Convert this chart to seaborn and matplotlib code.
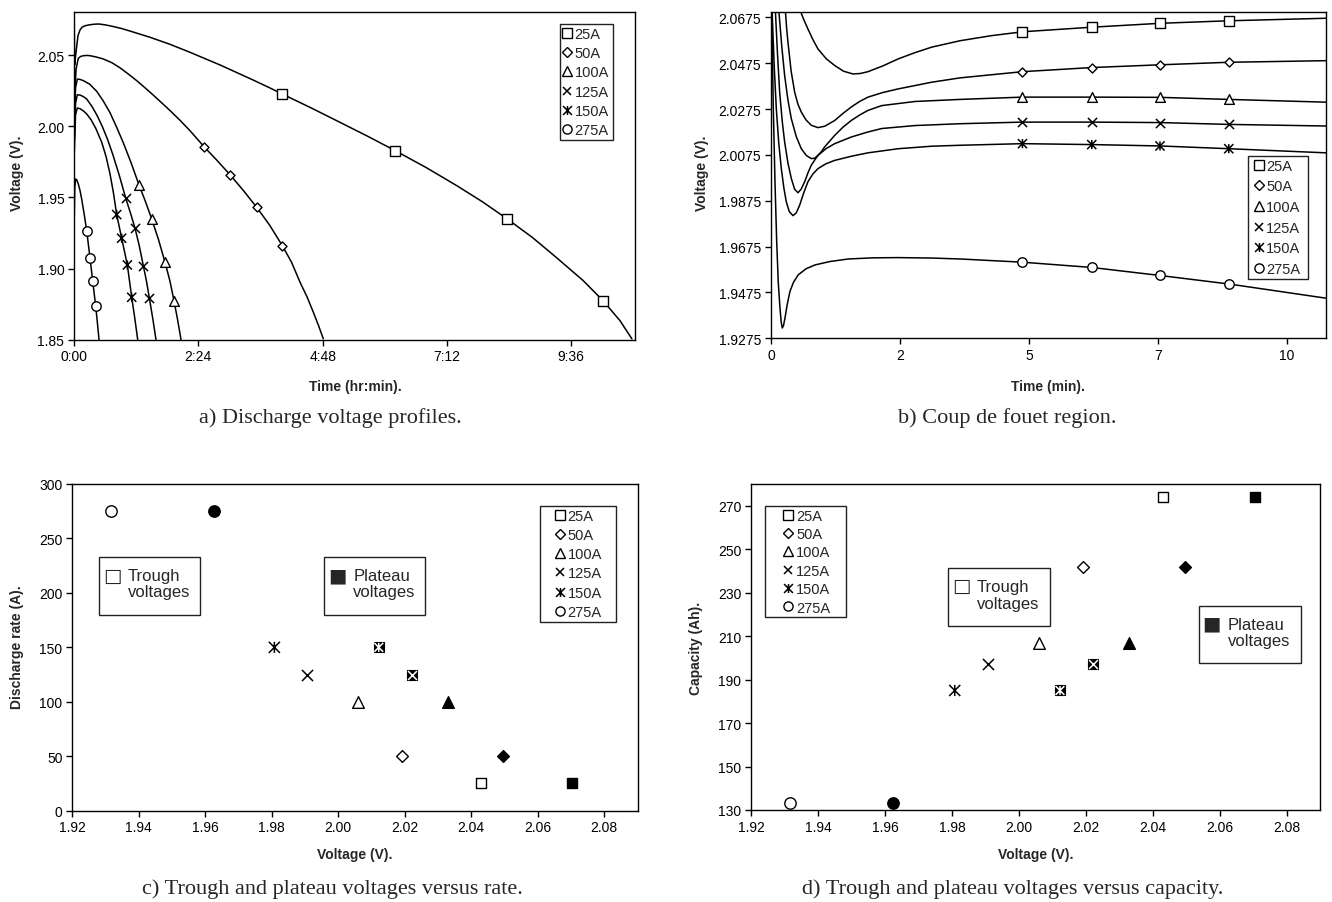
import matplotlib
matplotlib.use("Agg")
import matplotlib.pyplot as plt
import numpy as np
import seaborn as sns
from matplotlib.path import Path
from matplotlib.lines import Line2D
from matplotlib.patches import Rectangle
from matplotlib.ticker import FormatStrFormatter, FuncFormatter

# ---------------------------------------------------------------- data
SERIES = ["25A", "50A", "100A", "125A", "150A", "275A"]
RATES = [25, 50, 100, 125, 150, 275]                 # discharge rate (A)
CAPACITY = [274, 242, 207, 197, 185, 133]            # delivered capacity (Ah)
TROUGH_V = [2.0429, 2.0192, 2.0060, 1.9907, 1.9808, 1.9315]
PLATEAU_V = [2.0704, 2.0495, 2.0329, 2.0221, 2.0122, 1.9625]

# (a) full discharge profiles, time in hours
A_T_25 = [0.0, 0.012, 0.039, 0.077, 0.115, 0.154, 0.22, 0.284, 0.38, 0.477, 0.6, 0.734, 0.92,
          1.12, 1.48, 1.853, 2.24, 2.5, 2.82, 3.14, 3.46, 3.78, 4.02, 4.58, 5.135, 5.67, 6.20,
          6.8, 7.39, 7.88, 8.365, 8.85, 9.32, 9.83, 10.21, 10.54, 10.77]
A_V_25 = [2.09, 2.043, 2.0519, 2.0636, 2.0675, 2.0695, 2.0706, 2.0711, 2.0716, 2.0718, 2.0712,
          2.0702, 2.0686, 2.0664, 2.0623, 2.0575, 2.0519, 2.0479, 2.0430, 2.0377, 2.0324,
          2.0269, 2.0226, 2.0128, 2.0027, 1.9929, 1.9828, 1.9709, 1.9582, 1.9470, 1.9348,
          1.9218, 1.9075, 1.8915, 1.8775, 1.8634, 1.8506]
A_T_50 = [0.0, 0.01, 0.04, 0.083, 0.13, 0.18, 0.25, 0.31, 0.42, 0.566, 0.73, 0.888, 1.05, 1.21,
          1.37, 1.531, 1.69, 1.853, 2.05, 2.24, 2.51, 2.76, 3.012, 3.27, 3.527, 3.78, 4.021,
          4.2, 4.363, 4.5, 4.62, 4.72, 4.813]
A_V_50 = [2.09, 2.019, 2.040, 2.0477, 2.0490, 2.0495, 2.0497, 2.0495, 2.0487, 2.0472, 2.0446,
          2.0410, 2.0366, 2.0320, 2.0270, 2.0218, 2.0165, 2.0110, 2.0040, 1.9968, 1.9856,
          1.9760, 1.9659, 1.9548, 1.9430, 1.9303, 1.9161, 1.9044, 1.8904, 1.8800, 1.8693,
          1.8600, 1.8506]
A_T_100 = [0.0, 0.008, 0.03, 0.064, 0.12, 0.18, 0.30, 0.438, 0.56, 0.695, 0.82, 0.95, 1.10,
           1.255, 1.38, 1.50, 1.63, 1.757, 1.85, 1.93, 2.00, 2.066]
A_V_100 = [2.09, 2.006, 2.027, 2.0331, 2.0328, 2.0320, 2.0296, 2.0245, 2.0180, 2.0095,
           1.9995, 1.9885, 1.9745, 1.9587, 1.9470, 1.9348, 1.9205, 1.9044, 1.8915, 1.8775,
           1.8640, 1.8500]
A_T_125 = [0.0, 0.006, 0.03, 0.064, 0.12, 0.18, 0.245, 0.35, 0.45, 0.55, 0.65, 0.75, 0.87,
           0.997, 1.09, 1.178, 1.26, 1.338, 1.40, 1.454, 1.52, 1.583]
A_V_125 = [2.09, 1.991, 2.016, 2.0221, 2.0218, 2.0208, 2.0191, 2.0137, 2.0072, 1.9995,
           1.9905, 1.9800, 1.9660, 1.9496, 1.9390, 1.9283, 1.9160, 1.9020, 1.8910, 1.8794,
           1.8650, 1.8500]
A_T_150 = [0.0, 0.005, 0.03, 0.064, 0.12, 0.18, 0.245, 0.33, 0.42, 0.535, 0.62, 0.695, 0.76,
           0.824, 0.92, 1.03, 1.114, 1.17, 1.23]
A_V_150 = [2.09, 1.981, 2.008, 2.0128, 2.0122, 2.0108, 2.0086, 2.0045, 1.9985, 1.9887,
           1.9785, 1.9665, 1.9535, 1.9379, 1.9213, 1.9025, 1.8798, 1.8660, 1.8500]
A_T_275 = [0.0, 0.003, 0.015, 0.032, 0.055, 0.083, 0.115, 0.148, 0.195, 0.245, 0.309, 0.36,
           0.418, 0.45, 0.483]
A_V_275 = [2.09, 1.932, 1.957, 1.9629, 1.9622, 1.9594, 1.9550, 1.9489, 1.9385, 1.9266,
           1.9074, 1.8915, 1.8739, 1.8625, 1.8500]

# (a) marked samples
A_MT_25, A_MV_25 = [4.02, 6.20, 8.365, 10.21], [2.0226, 1.9828, 1.9348, 1.8775]
A_MT_50, A_MV_50 = [2.51, 3.012, 3.527, 4.021], [1.9856, 1.9659, 1.9430, 1.9161]
A_MT_100, A_MV_100 = [1.255, 1.50, 1.757, 1.93], [1.9587, 1.9348, 1.9044, 1.8775]
A_MT_125, A_MV_125 = [0.997, 1.178, 1.338, 1.454], [1.9496, 1.9283, 1.9020, 1.8794]
A_MT_150, A_MV_150 = [0.824, 0.92, 1.03, 1.114], [1.9379, 1.9213, 1.9025, 1.8798]
A_MT_275, A_MV_275 = [0.245, 0.309, 0.36, 0.418], [1.9266, 1.9074, 1.8915, 1.8739]

# (b) first ten minutes, time in minutes
B_T_25 = [0.534, 0.61, 0.688, 0.78, 0.874, 1.03, 1.185, 1.35, 1.526, 1.66, 1.805, 2.08, 2.37,
          2.68, 2.99, 3.52, 4.1, 4.68, 5.97, 7.24, 8.52, 10.33]
B_V_25 = [2.0711, 2.0665, 2.0624, 2.0578, 2.0537, 2.0494, 2.0465, 2.0440, 2.0428, 2.0430,
          2.0438, 2.0463, 2.0494, 2.0521, 2.0545, 2.0573, 2.0595, 2.0612, 2.0632, 2.0649,
          2.0660, 2.0671]
B_T_50 = [0.266, 0.29, 0.316, 0.375, 0.44, 0.50, 0.564, 0.65, 0.75, 0.874, 1.0, 1.185, 1.34,
          1.494, 1.65, 1.805, 2.08, 2.37, 2.99, 3.52, 4.68, 5.97, 7.24, 8.52, 10.33]
B_V_50 = [2.0711, 2.0630, 2.0566, 2.0440, 2.0349, 2.0297, 2.0262, 2.0228, 2.0204, 2.0194,
          2.0200, 2.0225, 2.0256, 2.0284, 2.0308, 2.0327, 2.0347, 2.0363, 2.0392, 2.0411,
          2.0438, 2.0456, 2.0468, 2.0479, 2.0486]
B_T_100 = [0.143, 0.2, 0.254, 0.315, 0.378, 0.47, 0.564, 0.66, 0.75, 0.81, 0.874, 0.94, 0.999,
           1.185, 1.34, 1.494, 1.65, 1.805, 2.06, 2.68, 3.52, 4.68, 5.97, 7.24, 8.52, 10.33]
B_V_100 = [2.0711, 2.0550, 2.0421, 2.0315, 2.0233, 2.0155, 2.0102, 2.0072, 2.0059, 2.0060,
           2.0073, 2.0090, 2.0110, 2.0160, 2.0196, 2.0225, 2.0249, 2.0269, 2.0290, 2.0308,
           2.0317, 2.0327, 2.0327, 2.0326, 2.0317, 2.0305]
B_T_125 = [0.08, 0.12, 0.161, 0.21, 0.254, 0.315, 0.378, 0.44, 0.502, 0.56, 0.627, 0.69, 0.75,
           0.874, 1.03, 1.185, 1.494, 1.805, 2.06, 2.68, 3.52, 4.68, 5.97, 7.24, 8.52, 10.33]
B_V_125 = [2.0711, 2.0520, 2.0349, 2.0220, 2.0131, 2.0040, 1.9972, 1.9925, 1.9910, 1.9925,
           1.9958, 1.9998, 2.0030, 2.0073, 2.0103, 2.0124, 2.0153, 2.0175, 2.0190, 2.0203,
           2.0211, 2.0218, 2.0218, 2.0216, 2.0208, 2.0201]
B_T_150 = [0.0, 0.019, 0.06, 0.099, 0.145, 0.192, 0.24, 0.285, 0.34, 0.409, 0.47, 0.534, 0.61,
           0.688, 0.78, 0.874, 1.02, 1.185, 1.494, 1.805, 2.37, 3.0, 3.52, 4.68, 5.97, 7.24,
           8.52, 10.33]
B_V_150 = [2.095, 2.0711, 2.0460, 2.0276, 2.0125, 2.0015, 1.9930, 1.9870, 1.9828, 1.9810,
           1.9822, 1.9856, 1.9910, 1.9958, 1.9992, 2.0015, 2.0036, 2.0051, 2.0069, 2.0084,
           2.0102, 2.0113, 2.0117, 2.0124, 2.0120, 2.0114, 2.0102, 2.0084]
B_T_275 = [0.0, 0.02, 0.043, 0.075, 0.106, 0.135, 0.167, 0.19, 0.21, 0.232, 0.26, 0.30, 0.353,
           0.42, 0.508, 0.65, 0.818, 1.1, 1.44, 1.9, 2.37, 3.0, 3.52, 4.68, 5.97, 7.24, 8.52,
           10.33]
B_V_275 = [2.10, 2.060, 2.0276, 1.9950, 1.9697, 1.9520, 1.9407, 1.9345, 1.9320, 1.9330,
           1.9363, 1.9420, 1.9480, 1.9520, 1.9552, 1.9578, 1.9595, 1.9610, 1.9621, 1.9626,
           1.9627, 1.9625, 1.9621, 1.9607, 1.9584, 1.9549, 1.9512, 1.9450]

# (b) marked samples
B_MT = [4.68, 5.97, 7.24, 8.52]
B_MV_25 = [2.0612, 2.0632, 2.0649, 2.0660]
B_MV_50 = [2.0438, 2.0456, 2.0468, 2.0479]
B_MV_100 = [2.0327, 2.0327, 2.0326, 2.0317]
B_MV_125 = [2.0218, 2.0218, 2.0216, 2.0208]
B_MV_150 = [2.0124, 2.0120, 2.0114, 2.0102]
B_MV_275 = [1.9607, 1.9584, 1.9549, 1.9512]

A_LINES = [(A_T_25, A_V_25), (A_T_50, A_V_50), (A_T_100, A_V_100),
           (A_T_125, A_V_125), (A_T_150, A_V_150), (A_T_275, A_V_275)]
A_MARKS = [(A_MT_25, A_MV_25), (A_MT_50, A_MV_50), (A_MT_100, A_MV_100),
           (A_MT_125, A_MV_125), (A_MT_150, A_MV_150), (A_MT_275, A_MV_275)]
B_LINES = [(B_T_25, B_V_25), (B_T_50, B_V_50), (B_T_100, B_V_100),
           (B_T_125, B_V_125), (B_T_150, B_V_150), (B_T_275, B_V_275)]
B_MARKS = [(B_MT, B_MV_25), (B_MT, B_MV_50), (B_MT, B_MV_100),
           (B_MT, B_MV_125), (B_MT, B_MV_150), (B_MT, B_MV_275)]

# ---------------------------------------------------------------- style
sns.set_theme(style="ticks")
plt.rcParams["font.family"] = ["Liberation Sans", "DejaVu Sans"]
plt.rcParams["axes.linewidth"] = 1.0
plt.rcParams["axes.edgecolor"] = "black"

# asterisk-like marker: an X crossed by a vertical stroke
STAR = Path([(-1, -1), (1, 1), (-1, 1), (1, -1), (0, -1), (0, 1)],
            [Path.MOVETO, Path.LINETO, Path.MOVETO, Path.LINETO, Path.MOVETO, Path.LINETO])
MARKERS = {"25A": "s", "50A": "D", "100A": "^", "125A": "x", "150A": STAR, "275A": "o"}
SIZE_SMALL = {"25A": 6.6, "50A": 4.6, "100A": 7.0, "125A": 6.6, "150A": 6.6, "275A": 6.8}
SIZE_BIG = {"25A": 7.0, "50A": 6.0, "100A": 8.4, "125A": 8.0, "150A": 8.0, "275A": 8.2}
LEGEND_SIZE = {"25A": 6.6, "50A": 4.6, "100A": 6.6, "125A": 6.4, "150A": 6.4, "275A": 6.6}

W, H = 1332, 903
fig = plt.figure(figsize=(W / 100, H / 100), dpi=100)


def add_axes(left, top, right, bottom):
    return fig.add_axes([left / W, 1 - bottom / H, (right - left) / W, (bottom - top) / H])


def fig_text(x, y, s, **kw):
    fig.text(x / W, 1 - y / H, s, ha="center", va="center", **kw)


def draw_points(ax, x, y, key, size, filled=False, ink="black"):
    m = MARKERS[key]
    if m == "x":
        sns.scatterplot(x=x, y=y, ax=ax, marker="x", s=size ** 2, color=ink,
                        linewidth=1.1, zorder=5)
    elif m is STAR:
        sns.scatterplot(x=x, y=y, ax=ax, marker=STAR, s=size ** 2, facecolor="none",
                        edgecolor=ink, linewidth=1.1, zorder=5)
    else:
        sns.scatterplot(x=x, y=y, ax=ax, marker=m, s=size ** 2,
                        facecolor="black" if filled else "white",
                        edgecolor="black", linewidth=1.0, zorder=4)


def draw_plateau(ax, x, y, key, size):
    m = MARKERS[key]
    if m == "x" or m is STAR:
        # solid square knocked out by the series symbol in white
        sns.scatterplot(x=x, y=y, ax=ax, marker="s", s=(size * 0.95) ** 2, facecolor="black",
                        edgecolor="black", linewidth=0.8, zorder=4)
        draw_points(ax, x, y, key, size * 0.8, ink="white")
    else:
        draw_points(ax, x, y, key, size, filled=True)


def legend_handles():
    hs = []
    for k in SERIES:
        m = MARKERS[k]
        if m == "x":
            hs.append(Line2D([], [], ls="", marker="x", ms=LEGEND_SIZE[k], color="black",
                             mew=1.1))
        elif m is STAR:
            hs.append(Line2D([], [], ls="", marker=STAR, ms=LEGEND_SIZE[k], mfc="none",
                             mec="black", mew=1.1))
        else:
            hs.append(Line2D([], [], ls="", marker=m, ms=LEGEND_SIZE[k], mfc="white",
                             mec="black", mew=1.0))
    return hs


def series_legend(ax, x0, ytop, width, handlelength, handletextpad, labelspacing):
    leg = ax.legend(legend_handles(), SERIES, loc="upper left",
                    bbox_to_anchor=(x0, ytop - 0.5, width, 0.5), mode="expand",
                    borderaxespad=0, frameon=True, fancybox=False, edgecolor="#222222",
                    framealpha=1, fontsize=10.5, handlelength=handlelength,
                    handletextpad=handletextpad, borderpad=0.2, labelspacing=labelspacing)
    leg.get_frame().set_linewidth(1.0)
    leg.set_zorder(6)


def note_box(ax, x0, y0, x1, y1, mx, my, tx, ty, symbol, label):
    ax.add_patch(Rectangle((x0, y0), x1 - x0, y1 - y0, transform=ax.transAxes,
                           facecolor="white", edgecolor="#222222", lw=1.0, zorder=5))
    ax.text(mx, my, symbol, transform=ax.transAxes, ha="center", va="center",
            fontsize=14, family="DejaVu Sans", zorder=6)
    ax.text(tx, ty, label, transform=ax.transAxes, ha="left", va="center", fontsize=12,
            linespacing=1.1, zorder=6)


def style_axes(ax):
    for s in ax.spines.values():
        s.set_visible(True)
        s.set_color("black")
        s.set_linewidth(1.0)
    ax.tick_params(axis="both", which="both", direction="out", length=4, width=1,
                   labelsize=10, colors="black", pad=3, top=False, right=False)
    ax.set_xlabel("")
    ax.set_ylabel("")


# ---------------------------------------------------------------- (a)
axA = add_axes(74, 13.3, 635, 340.7)
for key, (t, v) in zip(SERIES, A_LINES):
    sns.lineplot(x=t, y=v, ax=axA, color="black", lw=1.1, sort=False, estimator=None)
for key, (t, v) in zip(SERIES, A_MARKS):
    draw_points(axA, t, v, key, SIZE_SMALL[key])
axA.set_xlim(0, 10.83)
axA.set_ylim(1.85, 2.08)
axA.set_xticks([0, 2.4, 4.8, 7.2, 9.6])
axA.xaxis.set_major_formatter(FuncFormatter(
    lambda v, p: f"{int(v)}:{int(round((v - int(v)) * 60)):02d}"))
axA.set_yticks([1.85, 1.90, 1.95, 2.00, 2.05])
axA.yaxis.set_major_formatter(FormatStrFormatter("%.2f"))
style_axes(axA)
series_legend(axA, 0.8663, 0.9643, 0.0936, 0.5, 0.3, 0.36)

# ---------------------------------------------------------------- (b)
axB = add_axes(771, 13.3, 1326, 339.3)
for key, (t, v) in zip(SERIES, B_LINES):
    sns.lineplot(x=t, y=v, ax=axB, color="black", lw=1.1, sort=False, estimator=None)
for key, (t, v) in zip(SERIES, B_MARKS):
    draw_points(axB, t, v, key, SIZE_SMALL[key])
axB.set_xlim(0, 10.33)
axB.set_ylim(1.9275, 2.0697)
axB.set_xticks([0, 2.4, 4.8, 7.2, 9.6])
axB.xaxis.set_major_formatter(FuncFormatter(lambda v, p: f"{int(round(v))}"))
axB.set_yticks(np.arange(1.9275, 2.07, 0.02))
axB.yaxis.set_major_formatter(FormatStrFormatter("%.4f"))
style_axes(axB)
series_legend(axB, 0.8595, 0.5592, 0.108, 1.1, -0.05, 0.45)

# ---------------------------------------------------------------- (c)
axC = add_axes(72.3, 485, 638, 811.7)
for i, key in enumerate(SERIES):
    draw_points(axC, [TROUGH_V[i]], [RATES[i]], key, SIZE_BIG[key])
    draw_plateau(axC, [PLATEAU_V[i]], [RATES[i]], key, SIZE_BIG[key])
axC.set_xlim(1.92, 2.0902)
axC.set_ylim(0, 300)
axC.set_xticks(np.arange(1.92, 2.081, 0.02))
axC.xaxis.set_major_formatter(FormatStrFormatter("%.2f"))
axC.set_yticks(np.arange(0, 301, 50))
style_axes(axC)
series_legend(axC, 0.8268, 0.9336, 0.1343, 2.4, -0.7, 0.36)
note_box(axC, 0.047, 0.599, 0.2257, 0.7766, 0.0714, 0.7215, 0.0978, 0.6954,
         "\u25a1", "Trough\nvoltages")
note_box(axC, 0.4458, 0.599, 0.624, 0.7766, 0.468, 0.7215, 0.4966, 0.6954,
         "\u25a0", "Plateau\nvoltages")

# ---------------------------------------------------------------- (d)
axD = add_axes(751, 485, 1320, 811)
for i, key in enumerate(SERIES):
    draw_points(axD, [TROUGH_V[i]], [CAPACITY[i]], key, SIZE_BIG[key])
    draw_plateau(axD, [PLATEAU_V[i]], [CAPACITY[i]], key, SIZE_BIG[key])
axD.set_xlim(1.92, 2.0898)
axD.set_ylim(130, 280)
axD.set_xticks(np.arange(1.92, 2.081, 0.02))
axD.xaxis.set_major_formatter(FormatStrFormatter("%.2f"))
axD.set_yticks(np.arange(130, 271, 20))
style_axes(axD)
series_legend(axD, 0.0246, 0.9334, 0.1424, 2.8, -0.85, 0.3)
note_box(axD, 0.3462, 0.5644, 0.5255, 0.7423, 0.3701, 0.688, 0.3963, 0.6595,
         "\u25a1", "Trough\nvoltages")
note_box(axD, 0.7873, 0.4509, 0.9666, 0.6258, 0.8097, 0.5727, 0.8383, 0.5445,
         "\u25a0", "Plateau\nvoltages")

# ---------------------------------------------------------------- labels
lab = dict(fontsize=10, fontweight="bold")
fig_text(17, 173, "Voltage (V).", rotation=90, **lab)
fig_text(702, 173, "Voltage (V).", rotation=90, **lab)
fig_text(17, 647, "Discharge rate (A).", rotation=90, **lab)
fig_text(696, 648, "Capacity (Ah).", rotation=90, **lab)
fig_text(355, 387, "Time (hr:min).", **lab)
fig_text(1048, 387, "Time (min).", **lab)
fig_text(355, 855, "Voltage (V).", **lab)
fig_text(1036, 855, "Voltage (V).", **lab)

cap = dict(fontsize=16, family=["Liberation Serif", "DejaVu Serif"])
fig_text(330, 418, "a) Discharge voltage profiles.", **cap)
fig_text(1007, 418, "b) Coup de fouet region.", **cap)
fig_text(332, 889, "c) Trough and plateau voltages versus rate.", **cap)
fig_text(1013, 889, "d) Trough and plateau voltages versus capacity.", **cap)

fig.savefig("out.png", dpi=100, facecolor="white")
